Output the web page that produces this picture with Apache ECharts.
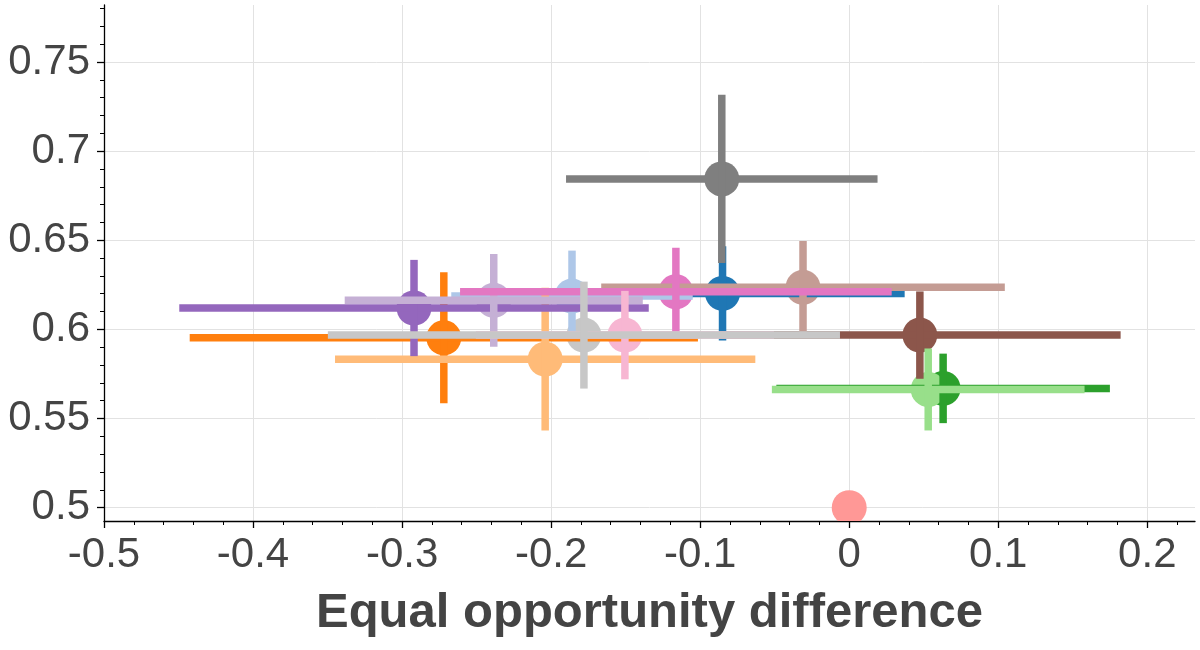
<!DOCTYPE html>
<html>
<head>
<meta charset="utf-8">
<title>Equal opportunity difference</title>
<script src="https://cdn.jsdelivr.net/npm/echarts@6/dist/echarts.min.js"></script>
<style>
  html, body { margin: 0; padding: 0; background: #fff; }
  #chart { width: 1200px; height: 650px; }
</style>
</head>
<body>
<div id="chart"></div>
<script>
// one entry per model, tab20 colours
const names = ['blue', 'light blue', 'orange', 'light orange', 'green', 'light green', 'light red',
  'purple', 'light purple', 'brown', 'light brown', 'pink', 'light pink', 'gray', 'light gray'];
const colors = ['#1f77b4', '#aec7e8', '#ff7f0e', '#ffbb78', '#2ca02c', '#98df8a', '#ff9896',
  '#9467bd', '#c5b0d5', '#8c564b', '#c49c94', '#e377c2', '#f7b6d2', '#7f7f7f', '#c7c7c7'];
const xs   = [-0.085, -0.186, -0.272, -0.204, 0.063, 0.053, 0.0, -0.292, -0.2385, 0.0474, -0.031, -0.1163, -0.1505, -0.0855, -0.178];
const ys   = [0.6202, 0.6187, 0.5953, 0.5833, 0.5669, 0.5663, 0.5, 0.612, 0.6163, 0.5968, 0.6236, 0.6211, 0.5968, 0.6844, 0.5968];
const xErr = [0.1222, 0.081, 0.1705, 0.141, 0.1119, 0.1049, 0, 0.1575, 0.100, 0.1347, 0.1354, 0.1448, 0.10, 0.1045, 0.1718];
const yErr = [0.0265, 0.0255, 0.0368, 0.040, 0.0195, 0.023, 0, 0.027, 0.026, 0.0245, 0.026, 0.0247, 0.0248, 0.0472, 0.030];

const xTicks = [-0.5, -0.4, -0.3, -0.2, -0.1, 0, 0.1, 0.2];
const yTicks = [0.5, 0.55, 0.6, 0.65, 0.7, 0.75];

const textColor = '#444';
const fontFamily = '"Liberation Sans", Arial, Helvetica, sans-serif';

const points = xs.map((x, i) => ({
  name: names[i],
  value: [x, ys[i], xErr[i], yErr[i]],
  itemStyle: { color: colors[i] }
}));

function fmt(v) {
  return String(+Number(v).toFixed(2));
}

function axisCommon(ticks) {
  return {
    type: 'value',
    axisLine: { show: true, onZero: false, lineStyle: { color: '#000', width: 1.3 } },
    axisTick: { show: true, length: 7, customValues: ticks, lineStyle: { color: '#000', width: 1.3 } },
    minorTick: { show: true, splitNumber: 5, length: 4, lineStyle: { color: '#000', width: 1 } },
    splitLine: { show: true, lineStyle: { color: '#e2e2e2', width: 1 } },
    axisLabel: {
      customValues: ticks,
      formatter: fmt,
      color: textColor,
      fontSize: 42,
      fontFamily: fontFamily
    }
  };
}

const chart = echarts.init(document.getElementById('chart'));

const xAxis = axisCommon(xTicks);
xAxis.min = -0.5;
xAxis.max = 0.232;
xAxis.axisLabel.margin = 13;
xAxis.name = 'Equal opportunity difference';
xAxis.nameLocation = 'middle';
xAxis.nameGap = 68;
xAxis.nameTextStyle = { color: textColor, fontSize: 49, fontWeight: 'bold', fontFamily: fontFamily };

const yAxis = axisCommon(yTicks);
yAxis.min = 0.4925;
yAxis.max = 0.782;
yAxis.axisLabel.margin = 14;

chart.setOption({
  animation: false,
  backgroundColor: '#fff',
  grid: { left: 104, right: 5, top: 5, bottom: 129, containLabel: false },
  xAxis: xAxis,
  yAxis: yAxis,
  series: [
    {
      // markers first, all error bars are drawn above them
      type: 'custom',
      name: 'markers',
      z: 2,
      clip: true,
      silent: true,
      data: points,
      renderItem: function (params, api) {
        const c = api.coord([api.value(0), api.value(1)]);
        return {
          type: 'circle',
          shape: { cx: c[0], cy: c[1], r: 17.5 },
          style: { fill: api.visual('color') }
        };
      }
    },
    {
      type: 'custom',
      name: 'error bars',
      z: 3,
      clip: true,
      silent: true,
      data: points,
      renderItem: function (params, api) {
        const x = api.value(0), y = api.value(1), ex = api.value(2), ey = api.value(3);
        const style = { stroke: api.visual('color'), lineWidth: 7.5, lineCap: 'butt' };
        const children = [];
        if (ex > 0) {
          const l = api.coord([x - ex, y]), r = api.coord([x + ex, y]);
          children.push({ type: 'line', shape: { x1: l[0], y1: l[1], x2: r[0], y2: r[1] }, style: style });
        }
        if (ey > 0) {
          const t = api.coord([x, y + ey]), b = api.coord([x, y - ey]);
          children.push({ type: 'line', shape: { x1: t[0], y1: t[1], x2: b[0], y2: b[1] }, style: style });
        }
        return { type: 'group', children: children };
      }
    }
  ]
});
</script>
</body>
</html>
